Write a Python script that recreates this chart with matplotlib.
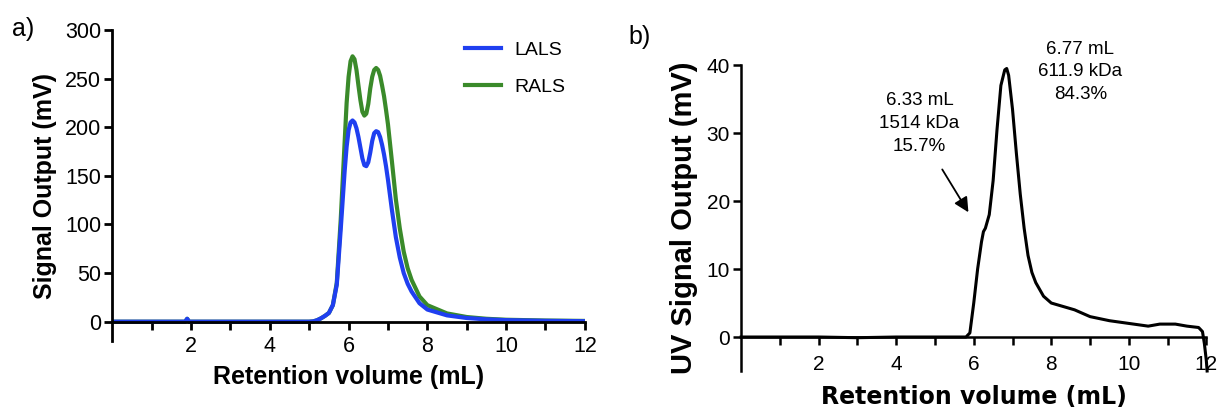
import numpy as np
import matplotlib.pyplot as plt
from matplotlib.ticker import FixedLocator, FuncFormatter

# panel a: light scattering detectors (mL, mV)
vol_ls = [0.0, 1.0, 1.85, 1.9, 1.95, 3.0, 4.0, 5.0, 5.1, 5.2, 5.3, 5.4, 5.5, 5.6, 5.7,
          5.8, 5.85, 5.9, 5.95, 6.0, 6.05, 6.1, 6.15, 6.2, 6.25, 6.3, 6.35, 6.4, 6.45,
          6.5, 6.55, 6.6, 6.65, 6.7, 6.75, 6.8, 6.85, 6.9, 6.95, 7.0, 7.1,
          7.2, 7.3, 7.4, 7.5, 7.6, 7.8, 8.0, 8.5, 9.0, 9.5, 10.0, 11.0, 12.0]
lals = [0.0, 0.0, 0.0, 3.0, 0.0, 0.0, 0.0, 0.0, 0.3, 1.5, 3.5, 6.0, 9.0, 17.0, 38.0,
        95.0, 125.0, 155.0, 180.0, 197.0, 205.0, 207.0, 205.0, 199.0, 190.0, 179.0, 168.0, 161.0, 160.0,
        164.0, 174.0, 186.0, 194.0, 196.0, 195.0, 190.0, 182.0, 172.0, 160.0, 146.0, 115.0,
        87.0, 66.0, 50.0, 39.0, 31.0, 19.0, 12.5, 6.5, 3.8, 2.4, 1.6, 0.9, 0.5]
rals = [0.0, 0.0, 0.0, 3.0, 0.0, 0.0, 0.0, 0.0, 0.3, 1.5, 3.5, 6.0, 9.0, 17.0, 40.0,
        105.0, 145.0, 185.0, 225.0, 252.0, 268.0, 273.0, 270.0, 259.0, 243.0, 228.0, 216.0, 212.0, 214.0,
        224.0, 240.0, 252.0, 259.0, 261.0, 259.0, 253.0, 243.0, 232.0, 218.0, 203.0, 165.0,
        126.0, 96.0, 72.0, 55.0, 43.0, 26.0, 17.0, 8.5, 4.8, 3.0, 2.0, 1.2, 0.8]

# panel b: UV trace
vol_uv = [0.0, 1.0, 2.0, 3.0, 4.0, 5.0, 5.8, 5.9, 6.0, 6.1, 6.2, 6.25, 6.3, 6.4, 6.5,
          6.6, 6.7, 6.8, 6.85, 6.9, 7.0, 7.1, 7.2, 7.3, 7.4, 7.5, 7.6, 7.7, 7.8, 8.0,
          8.3, 8.6, 9.0, 9.5, 10.0, 10.5, 10.8, 11.2, 11.5, 11.8, 11.9, 11.95, 12.0, 12.02]
uv = [0.0, 0.0, 0.0, -0.1, 0.0, 0.0, 0.0, 0.6, 5.0, 10.0, 14.0, 15.5, 16.0, 18.0, 23.0,
      30.5, 37.0, 39.3, 39.5, 38.5, 33.5, 27.0, 21.0, 16.0, 12.0, 9.5, 8.0, 7.0, 6.0, 5.0,
      4.5, 4.0, 3.0, 2.4, 2.0, 1.6, 1.9, 1.9, 1.6, 1.4, 0.8, -1.0, -3.5, -5.0]

ticks_y_a = [0, 50, 100, 150, 200, 250, 300]
ticks_y_b = [0, 10, 20, 30, 40]
ticks_x = list(range(1, 13))

plt.rcParams['font.family'] = ['Liberation Sans', 'DejaVu Sans']

fig = plt.figure(figsize=(12.21, 4.12), dpi=100)
ax1 = fig.add_axes([0.092, 0.172, 0.387, 0.755])
ax2 = fig.add_axes([0.607, 0.0995, 0.381, 0.7425])


def style_axis(ax, yticks, ylim, lw, size, pad):
    ax.set_xlim(0, 12)
    ax.set_ylim(*ylim)
    for s in ['top', 'right']:
        ax.spines[s].set_visible(False)
    ax.spines['bottom'].set_position(('data', 0))
    ax.spines['bottom'].set_linewidth(lw)
    ax.spines['left'].set_linewidth(lw)
    ax.xaxis.set_major_locator(FixedLocator(ticks_x))
    ax.xaxis.set_major_formatter(FuncFormatter(lambda v, p: '%d' % v if v % 2 == 0 else ''))
    ax.set_yticks(yticks)
    ax.tick_params(direction='out', length=6, width=lw, labelsize=size, pad=2)
    ax.tick_params(axis='x', pad=pad)


style_axis(ax1, ticks_y_a, (-20, 300), 2.0, 15.5, 4)
ax1.plot(vol_ls, rals, color='#3a8a2a', lw=3.0, label='RALS', solid_joinstyle='round')
ax1.plot(vol_ls, lals, color='#1f3ff0', lw=3.0, label='LALS', solid_joinstyle='round')
ax1.set_ylabel('Signal Output (mV)', fontsize=18, fontweight='bold', labelpad=6)
ax1.set_xlabel('Retention volume (mL)', fontsize=18, fontweight='bold', labelpad=6)
h, l = ax1.get_legend_handles_labels()
ax1.legend(h[::-1], l[::-1], loc='upper right', bbox_to_anchor=(0.996, 1.02),
           frameon=False, fontsize=14, handlelength=1.85, handletextpad=0.7,
           labelspacing=1.0)

style_axis(ax2, ticks_y_b, (-5, 40), 1.8, 15, 7)
ax2.plot(vol_uv, uv, color='black', lw=2.2, clip_on=False, solid_joinstyle='round')
ax2.set_ylabel('UV Signal Output (mV)', fontsize=21, fontweight='bold', labelpad=6)
ax2.set_xlabel('Retention volume (mL)', fontsize=17, fontweight='bold',
               family='DejaVu Sans', labelpad=8)

ax2.text(8.75, 39.0, '6.77 mL\n611.9 kDa\n84.3%', ha='center', va='center',
         fontsize=13.5, linespacing=1.45)
ax2.text(4.6, 31.4, '6.33 mL\n1514 kDa\n15.7%', ha='center', va='center',
         fontsize=13.5, linespacing=1.45)
ax2.annotate('', xy=(5.9, 18.0), xytext=(5.15, 25.0),
             arrowprops=dict(arrowstyle='-|>', color='black', lw=1.3,
                             mutation_scale=22))

fig.text(0.010, 0.93, 'a)', fontsize=18, va='center', ha='left')
fig.text(0.515, 0.91, 'b)', fontsize=18, va='center', ha='left')

fig.savefig('out.png', dpi=100)
